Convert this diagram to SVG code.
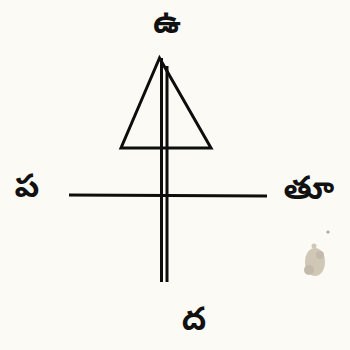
<svg xmlns="http://www.w3.org/2000/svg" width="350" height="350" viewBox="0 0 350 350">
<style>
.ln{stroke:#0d0d0d;stroke-width:3;fill:none;stroke-linejoin:miter}
.lb{font-family:"Noto Sans Telugu","Noto Sans","DejaVu Sans",sans-serif;font-weight:bold;fill:#111;text-anchor:middle;font-size:32px}
</style>
<rect width="350" height="350" fill="#fbfaf4"/>
<g id="connectors">
<polygon class="ln" points="159.5,58 211,148 121,148"/>
<line class="ln" x1="161.5" y1="58" x2="161.5" y2="282"/>
<line class="ln" x1="167" y1="66" x2="167" y2="282"/>
<line class="ln" x1="69" y1="195" x2="267" y2="196"/>
</g>
<g id="north"><text class="lb" x="167" y="33">ఉ</text></g>
<g id="west"><text class="lb" x="27" y="197">ప</text></g>
<g id="east"><text class="lb" x="309" y="199">తూ</text></g>
<g id="south"><text class="lb" x="194" y="330">ద</text></g>
<g id="blot" opacity="0.5" fill="#a8957c">
<ellipse cx="315" cy="262" rx="10" ry="14"/>
<circle cx="309" cy="270" r="5" fill="#8c7a66"/>
<circle cx="320" cy="255" r="4" fill="#8c7a66"/>
<circle cx="314" cy="246" r="2.5"/>
<circle cx="328" cy="232" r="1.6" fill="#5e5246"/>
</g>
</svg>
